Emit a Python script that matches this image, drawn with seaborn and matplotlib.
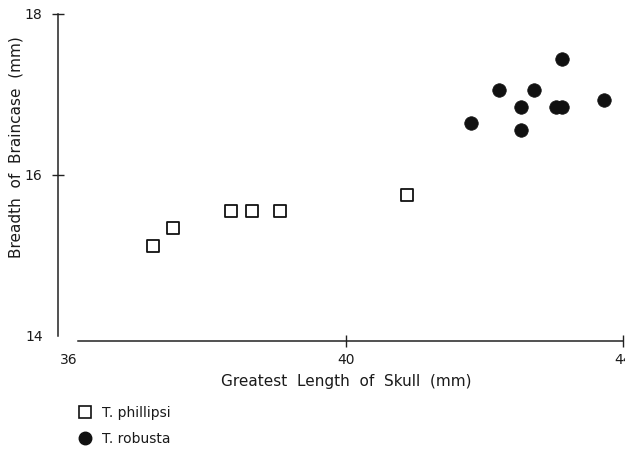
import matplotlib
matplotlib.use("Agg")
import matplotlib.pyplot as plt
import seaborn as sns
import pandas as pd
from matplotlib.lines import Line2D

sns.set_style("white")
plt.rcParams['font.family'] = ['DejaVu Sans']

phil_x = [37.21, 37.50, 38.34, 38.64, 39.05, 40.88]
phil_y = [15.12, 15.34, 15.55, 15.55, 15.55, 15.75]
rob_x = [41.81, 42.21, 42.53, 42.53, 42.71, 43.03, 43.12, 43.12, 43.73]
rob_y = [16.65, 17.05, 16.85, 16.56, 17.05, 16.85, 16.85, 17.44, 16.93]
species = ["T. phillipsi", "T. robusta"]
x_ticks = [36, 40, 44]
y_ticks = [14, 16, 18]

df_p = pd.DataFrame({"x": phil_x, "y": phil_y})
df_r = pd.DataFrame({"x": rob_x, "y": rob_y})

fig = plt.figure(figsize=(6.25, 4.51), dpi=100)
ax = fig.add_axes([0.1104, 0.255, 0.8864, 0.714])

sns.scatterplot(data=df_p, x="x", y="y", ax=ax, marker="s", s=70,
                facecolor="white", edgecolor="#111111", linewidth=1.3, zorder=3)
sns.scatterplot(data=df_r, x="x", y="y", ax=ax, marker="o", s=95,
                color="#111111", edgecolor="#111111", linewidth=0.5, zorder=3)

ax.set_xlim(36, 44)
ax.set_ylim(14, 18)
ax.set_xticks(x_ticks)
ax.set_yticks(y_ticks)
for s in ["top", "right"]:
    ax.spines[s].set_visible(False)
ax.spines["left"].set_position(("outward", 8))
ax.spines["bottom"].set_position(("outward", 3.6))
ax.spines["bottom"].set_bounds(36.13, 44)
for s in ["left", "bottom"]:
    ax.spines[s].set_color("#222222")
    ax.spines[s].set_linewidth(1.1)

ax.tick_params(axis="both", which="major", bottom=True, left=True,
               direction="inout", length=8, width=1.0, color="#222222",
               labelsize=10, labelcolor="#1a1a1a")
ax.tick_params(axis="y", pad=7)
ax.tick_params(axis="x", pad=5)
ax.xaxis.get_major_ticks()[0].tick1line.set_visible(False)
ax.yaxis.get_major_ticks()[0].tick1line.set_visible(False)

ax.set_xlabel("Greatest  Length  of  Skull  (mm)", fontsize=11,
              color="#1a1a1a", labelpad=5)
ax.set_ylabel("Breadth  of  Braincase  (mm)", fontsize=11,
              color="#1a1a1a")
ax.yaxis.set_label_coords(-0.083, 0.587)

handles = [
    Line2D([], [], marker="s", linestyle="", markersize=8, markerfacecolor="white",
           markeredgecolor="#111111", markeredgewidth=1.2),
    Line2D([], [], marker="o", linestyle="", markersize=9, markerfacecolor="#111111",
           markeredgecolor="#111111"),
]
leg = fig.legend(handles, species, loc="upper left", bbox_to_anchor=(0.116, 0.112),
                 frameon=False, fontsize=10, handletextpad=0.7, labelspacing=0.85,
                 borderaxespad=0, handlelength=1.0)
for t in leg.get_texts():
    t.set_color("#1a1a1a")

fig.savefig("out.png", dpi=100)
